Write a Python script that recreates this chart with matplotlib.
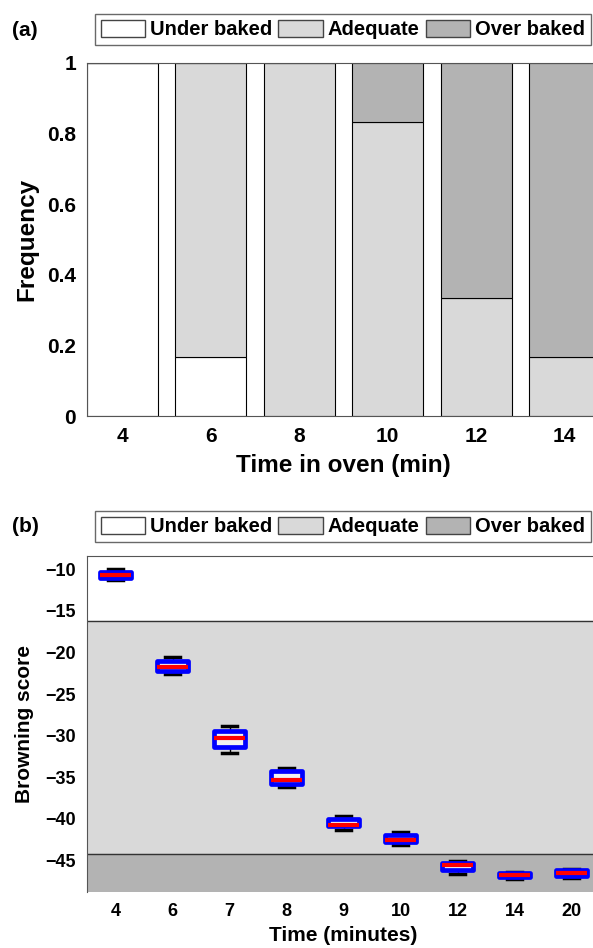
import matplotlib
matplotlib.use("Agg")
import matplotlib.pyplot as plt
import matplotlib.patches as patches

plt.rcParams['font.family'] = ['Liberation Sans', 'DejaVu Sans']
plt.rcParams['font.weight'] = 'bold'

# panel (a): share of each bake class per oven time
oven_times = [4, 6, 8, 10, 12, 14]
under_freq = [1.0, 0.167, 0.0, 0.0, 0.0, 0.0]
adequate_freq = [0.0, 0.833, 1.0, 0.833, 0.333, 0.167]
over_freq = [0.0, 0.0, 0.0, 0.167, 0.667, 0.833]

# panel (b): browning score box summaries
time_labels = ['4', '6', '7', '8', '9', '10', '12', '14', '20']
box_hi = [-10.3, -21.0, -29.4, -34.3, -40.0, -42.0, -45.3, -46.55, -46.2]
box_lo = [-11.0, -22.2, -31.4, -35.8, -40.9, -42.8, -46.2, -47.0, -46.9]
medians = [-10.7, -21.8, -30.3, -35.3, -40.7, -42.6, -45.5, -46.8, -46.5]
whisk_hi = [-10.0, -20.6, -28.9, -33.9, -39.7, -41.6, -45.05, -46.4, -46.0]
whisk_lo = [-11.3, -22.6, -32.1, -36.2, -41.3, -43.1, -46.6, -47.2, -47.1]
under_limit = -16.2
over_limit = -44.2

class_names = ['Under baked', 'Adequate', 'Over baked']
class_colors = ['white', '#d9d9d9', '#b3b3b3']

W, H = 593, 948
fig = plt.figure(figsize=(W / 100, H / 100), dpi=100)

# ---------- (a) ----------
ax1 = fig.add_axes([87 / W, 1 - 416 / H, 513 / W, 353 / H])
bottom = [0.0] * len(oven_times)
for vals, col in zip([under_freq, adequate_freq, over_freq], class_colors):
    ax1.bar(oven_times, vals, width=1.6, bottom=bottom, color=col,
            edgecolor='black', linewidth=0.8)
    bottom = [b + v for b, v in zip(bottom, vals)]
ax1.set_xlim(3.2, 14.8)
ax1.set_ylim(0, 1)
ax1.set_xticks(oven_times)
ax1.set_yticks([0, 0.2, 0.4, 0.6, 0.8, 1])
ax1.set_yticklabels(['0', '0.2', '0.4', '0.6', '0.8', '1'])
ax1.tick_params(length=0, labelsize=15, pad=8)
ax1.set_ylabel('Frequency', fontsize=17.5, fontweight='bold', labelpad=6)
ax1.set_xlabel('Time in oven (min)', fontsize=17.5, fontweight='bold', labelpad=6)
for s in ax1.spines.values():
    s.set_color('#555555')

# ---------- (b) ----------
ax2 = fig.add_axes([87 / W, 1 - 892 / H, 513 / W, 336 / H])
ax2.set_ylim(-48.8, -8.4)
ax2.set_xlim(0.5, 9.5)
ax2.axhspan(under_limit, -8.4, color=class_colors[0], zorder=0)
ax2.axhspan(over_limit, under_limit, color=class_colors[1], zorder=0)
ax2.axhspan(-48.8, over_limit, color=class_colors[2], zorder=0)
ax2.axhline(under_limit, color='#333333', lw=1, zorder=1)
ax2.axhline(over_limit, color='#333333', lw=1, zorder=1)

stats = []
for i in range(len(time_labels)):
    stats.append(dict(med=medians[i], q1=box_lo[i], q3=box_hi[i],
                      whislo=whisk_lo[i], whishi=whisk_hi[i], fliers=[]))
positions = list(range(1, len(time_labels) + 1))
ax2.bxp(stats, positions=positions, widths=0.53, showfliers=False,
        patch_artist=True, capwidths=0.25,
        boxprops=dict(facecolor='#f2f2f2', edgecolor='blue', linewidth=3.4,
                      joinstyle='round', zorder=3),
        medianprops=dict(color='red', linewidth=3, solid_capstyle='butt', zorder=4),
        capprops=dict(color='black', linewidth=2.5, zorder=2),
        whiskerprops=dict(color='black', linewidth=1, zorder=2))
ax2.set_xticks(positions)
ax2.set_xticklabels(time_labels)
ax2.set_yticks([-10, -15, -20, -25, -30, -35, -40, -45])
ax2.set_yticklabels(['\u221210', '\u221215', '\u221220', '\u221225',
                     '\u221230', '\u221235', '\u221240', '\u221245'])
ax2.tick_params(length=0, labelsize=13, pad=8)
ax2.set_ylabel('Browning score', fontsize=15, fontweight='bold', labelpad=8)
ax2.set_xlabel('Time (minutes)', fontsize=15, fontweight='bold', labelpad=4)
for s in ax2.spines.values():
    s.set_color('#555555')
ax2.spines['bottom'].set_visible(False)

# legends and panel letters
handles = [patches.Patch(facecolor=c, edgecolor='#444444', linewidth=1) for c in class_colors]
for ytop in (14, 511):
    fig.legend(handles, class_names, loc='upper right',
               bbox_to_anchor=(591 / W, 1 - ytop / H), ncol=3,
               fontsize=14.5, frameon=True, fancybox=False, edgecolor='#444444',
               handlelength=2.2, handleheight=0.9, handletextpad=0.25,
               columnspacing=0.3, borderpad=0.3, borderaxespad=0)
fig.text(12 / W, 1 - 30 / H, '(a)', fontsize=15, fontweight='bold', va='center')
fig.text(12 / W, 1 - 526 / H, '(b)', fontsize=15, fontweight='bold', va='center')

fig.savefig('out.png', dpi=100)
